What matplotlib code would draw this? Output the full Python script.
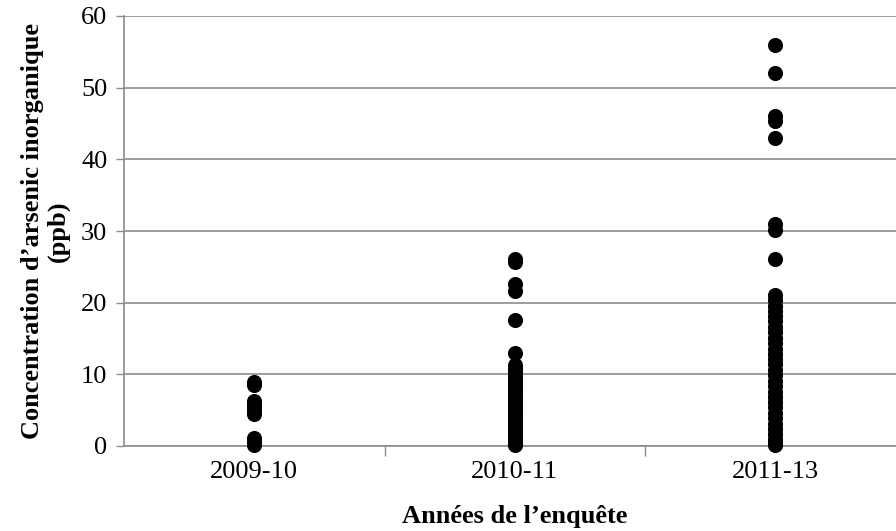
import matplotlib
matplotlib.use("Agg")
import matplotlib.pyplot as plt

plt.rcParams['font.family'] = ['Liberation Serif', 'DejaVu Serif']

categories = ["2009-10", "2010-11", "2011-13"]

values_2009 = [9.0, 8.5, 6.3, 5.9, 5.5, 5.0, 4.5, 1.1, 0.6, 0.2]

values_2010 = [26.1, 25.7, 22.6, 21.6, 17.6, 13.0, 11.3, 10.8, 10.3, 9.9,
               9.4, 9.0, 8.6, 8.1, 7.7, 7.2, 6.8, 6.4, 6.0, 5.5, 5.1, 4.7,
               4.2, 3.8, 3.4, 3.0, 2.6, 2.2, 1.8, 1.4, 1.0, 0.7, 0.4, 0.2]

values_2011 = [56.0, 52.0, 46.0, 45.3, 43.0, 31.0, 30.2, 26.1, 21.1, 20.4,
               19.6, 18.9, 18.1, 17.4, 16.6, 15.9, 15.1, 14.4, 13.6, 12.9,
               12.1, 11.4, 10.6, 9.9, 9.1, 8.4, 7.6, 6.9, 6.1, 5.4, 4.6,
               3.9, 3.1, 2.4, 1.7, 1.0, 0.5, 0.2]

series = [values_2009, values_2010, values_2011]

y_ticks = [0, 10, 20, 30, 40, 50, 60]

fig = plt.figure(figsize=(8.96, 5.31), dpi=100)
ax = fig.add_axes([124 / 896, 85 / 531, 781.5 / 896, 430 / 531])

grid_color = "#8c8c8c"
for i, vals in enumerate(series, start=1):
    ax.scatter([i] * len(vals), vals, s=118, color="black", zorder=3,
               linewidths=0, clip_on=False)

ax.set_xlim(0.5, 3.5)
ax.set_ylim(0, 60)
ax.set_yticks(y_ticks)
ax.set_yticklabels([str(t) for t in y_ticks])
ax.set_xticks([1.5, 2.5, 3.5], minor=False)
ax.set_xticklabels([])
ax.set_xticks([1, 2, 3], minor=True)
ax.set_xticklabels(categories, minor=True)
ax.tick_params(axis="x", which="major", direction="out", length=7,
               color=grid_color, width=1)
ax.tick_params(axis="x", which="minor", length=0, pad=11, labelsize=19)
ax.tick_params(axis="y", direction="out", length=6, color=grid_color,
               width=1, pad=6, labelsize=19)

ax.yaxis.grid(True, color=grid_color, linewidth=1.2)
ax.set_axisbelow(True)
for side in ("top", "right"):
    ax.spines[side].set_visible(False)
for side in ("left", "bottom"):
    ax.spines[side].set_color(grid_color)
    ax.spines[side].set_linewidth(1.2)

ax.set_xlabel("Années de l’enquête", fontsize=19, fontweight="bold",
              labelpad=16)
ax.set_ylabel("Concentration d’arsenic inorganique\n(ppb)", fontsize=19,
              fontweight="bold", linespacing=1.15, labelpad=8)

fig.savefig("out.png", dpi=100)
